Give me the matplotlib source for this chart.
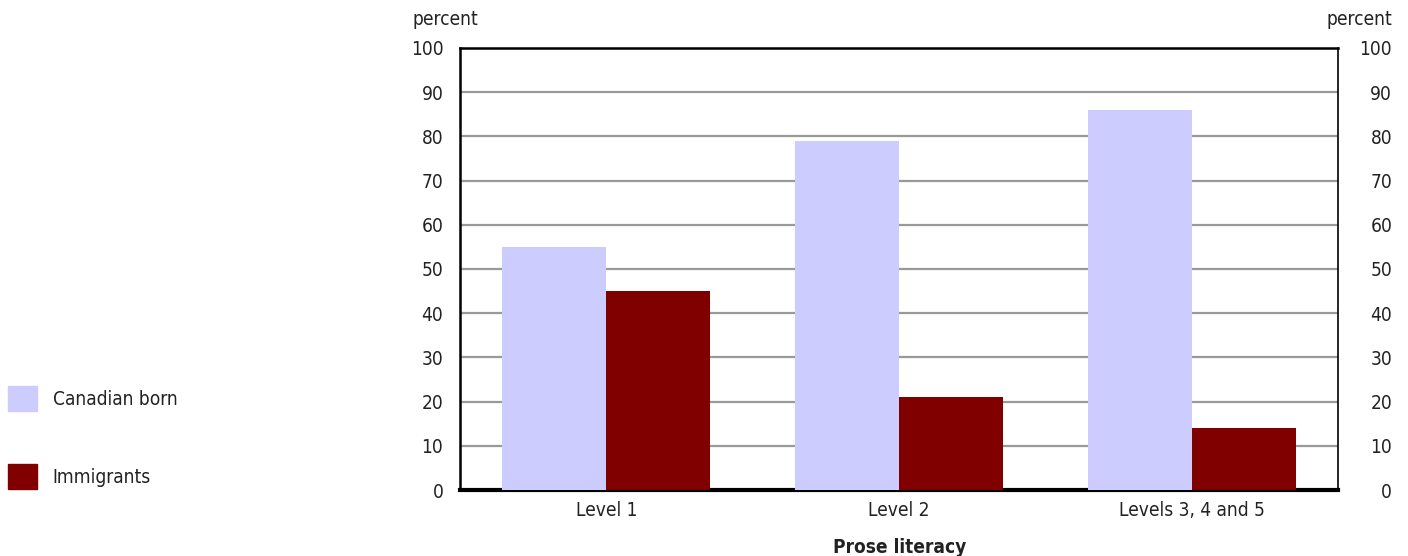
import matplotlib.pyplot as plt
import matplotlib.patches as mpatches
import numpy as np

categories = ["Level 1", "Level 2", "Levels 3, 4 and 5"]
canadian_born = [55, 79, 86]
immigrants = [45, 21, 14]
y_ticks = [0, 10, 20, 30, 40, 50, 60, 70, 80, 90, 100]

plt.rcParams["font.family"] = ["DejaVu Sans"]
plt.rcParams["font.stretch"] = "condensed"

fig = plt.figure(figsize=(14.08, 5.56), dpi=100)
ax = fig.add_axes([0.3267, 0.1187, 0.6236, 0.795])

x = np.arange(len(categories))
width = 0.355
ax.bar(x - width / 2, canadian_born, width, color="#ccccff", zorder=3)
ax.bar(x + width / 2, immigrants, width, color="#800000", zorder=3)

ax.set_xlim(-0.5, 2.5)
ax.set_ylim(0, 100)
ax.set_yticks(y_ticks)
ax.yaxis.grid(True, color="#999999", linewidth=1.6, zorder=0)
ax.set_xticks(x)
ax.set_xticklabels(categories, fontsize=13.7, color="#222222")
ax.tick_params(axis="x", length=0, pad=8)
ax.tick_params(axis="y", length=0, pad=12, labelsize=13.7, labelcolor="#222222")

for side in ["top", "left"]:
    ax.spines[side].set_linewidth(1.8)
ax.spines["right"].set_linewidth(1.2)
ax.spines["bottom"].set_linewidth(3)

ax2 = ax.twinx()
ax2.set_ylim(0, 100)
ax2.set_yticks(y_ticks)
ax2.tick_params(axis="y", length=0, pad=39, labelsize=13.7, labelcolor="#222222")
for lbl in ax2.get_yticklabels():
    lbl.set_horizontalalignment("right")
for s in ax2.spines.values():
    s.set_visible(False)

fig.text(0.2933, 0.965, "percent", fontsize=13.7, color="#222222", va="center")
fig.text(0.9886, 0.965, "percent", fontsize=13.7, color="#222222", va="center", ha="right")
fig.text(0.639, 0.016, "Prose literacy", fontsize=13.7, fontweight="bold",
         color="#222222", ha="center", va="center")

handles = [mpatches.Patch(color="#ccccff"), mpatches.Patch(color="#800000")]
fig.legend(handles, ["Canadian born", "Immigrants"], loc="center left",
           bbox_to_anchor=(0.0057, 0.213), frameon=False, fontsize=13.7,
           labelspacing=2.8, handlelength=1.5, handleheight=1.6,
           handletextpad=0.85, borderpad=0, borderaxespad=0,
           labelcolor="#222222")

fig.savefig("out.png", dpi=100)
